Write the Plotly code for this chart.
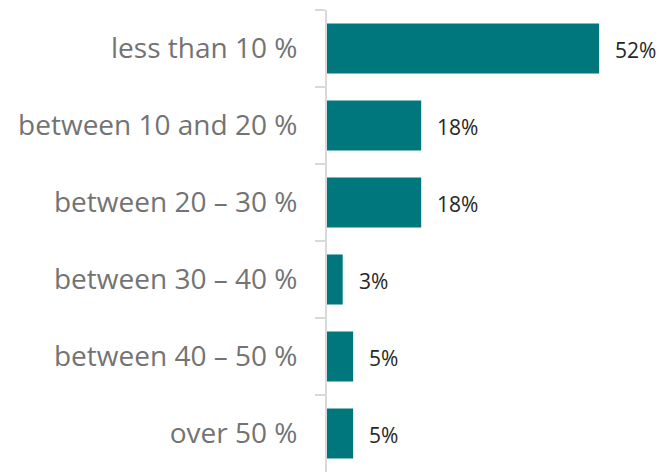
import plotly.graph_objects as go

categories = ["less than 10 %", "between 10 and 20 %", "between 20 – 30 %",
              "between 30 – 40 %", "between 40 – 50 %", "over 50 %"]
values = [52, 18, 18, 3, 5, 5]
labels = ["52%", "18%", "18%", "3%", "5%", "5%"]

FONT = "Open Sans, sans-serif"

fig = go.Figure(go.Bar(
    x=values, y=categories, orientation="h",
    marker=dict(color="#00777D", line=dict(width=0)),
    hoverinfo="skip",
))

for c, v, t in zip(categories, values, labels):
    fig.add_annotation(x=v, y=c, text=t, showarrow=False, xanchor="left",
                       xshift=14, yshift=-1,
                       font=dict(size=21, color="#262626", family=FONT))

fig.update_layout(
    width=667, height=472,
    margin=dict(l=327, r=26, t=10, b=0),
    paper_bgcolor="white", plot_bgcolor="white",
    bargap=0.35, showlegend=False,
    font=dict(family=FONT),
)
fig.update_xaxes(range=[0, 60], visible=False, fixedrange=True)
fig.update_yaxes(
    autorange="reversed", tickson="boundaries", ticks="outside", ticklen=10,
    tickcolor="#d9d9d9", tickwidth=2, showline=True, linecolor="#d9d9d9",
    linewidth=2, showgrid=False, ticklabelstandoff=22,
    tickfont=dict(size=28, color="#737373", family=FONT),
    fixedrange=True,
)

fig.write_html("out.html", config={"displayModeBar": False})
